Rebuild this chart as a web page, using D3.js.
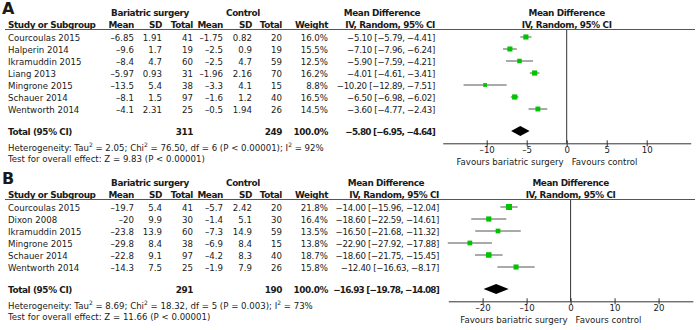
<!DOCTYPE html>
<html>
<head>
<meta charset="utf-8">
<script src="https://cdn.jsdelivr.net/npm/d3@7"></script>
<style>
  body { margin: 0; background: #fff; }
  svg { font-family: "DejaVu Sans", sans-serif; font-size: 8.6px; fill: #1a1a1a; }
  .b { font-weight: bold; font-size: 8.9px; letter-spacing: -0.4px; }
  .ci { letter-spacing: -0.3px; }
  .b.ci { letter-spacing: -0.8px; }
</style>
</head>
<body>
<div id="chart"></div>
<script>
// Panel A
const studiesA = ["Courcoulas 2015", "Halperin 2014", "Ikramuddin 2015", "Liang 2013", "Mingrone 2015", "Schauer 2014", "Wentworth 2014"];
const surgMeanA = ["-6.85", "-9.6", "-8.4", "-5.97", "-13.5", "-8.1", "-4.1"];
const surgSdA = ["1.91", "1.7", "4.7", "0.93", "5.4", "1.5", "2.31"];
const surgNA = [41, 19, 60, 31, 38, 97, 25];
const ctrlMeanA = ["-1.75", "-2.5", "-2.5", "-1.96", "-3.3", "-1.6", "-0.5"];
const ctrlSdA = ["0.82", "0.9", "4.7", "2.16", "4.1", "1.2", "1.94"];
const ctrlNA = [20, 19, 59, 70, 15, 40, 26];
const weightA = [16.0, 15.5, 12.5, 16.2, 8.8, 16.5, 14.5];
const mdA = [-5.10, -7.10, -5.90, -4.01, -10.20, -6.50, -3.60];
const loA = [-5.79, -7.96, -7.59, -4.61, -12.89, -6.98, -4.77];
const hiA = [-4.41, -6.24, -4.21, -3.41, -7.51, -6.02, -2.43];
const totalA = {n1: 311, n2: 249, md: -5.80, lo: -6.95, hi: -4.64};
const hetA = ["2.05", "76.50", "6", "P < 0.00001", "92%"];
const zA = ["9.83", "P < 0.00001"];
const ticksA = [-10, -5, 0, 5, 10];

// Panel B
const studiesB = ["Courcoulas 2015", "Dixon 2008", "Ikramuddin 2015", "Mingrone 2015", "Schauer 2014", "Wentworth 2014"];
const surgMeanB = ["-19.7", "-20", "-23.8", "-29.8", "-22.8", "-14.3"];
const surgSdB = ["5.4", "9.9", "13.9", "8.4", "9.1", "7.5"];
const surgNB = [41, 30, 60, 38, 97, 25];
const ctrlMeanB = ["-5.7", "-1.4", "-7.3", "-6.9", "-4.2", "-1.9"];
const ctrlSdB = ["2.42", "5.1", "14.9", "8.4", "8.3", "7.9"];
const ctrlNB = [20, 30, 59, 15, 40, 26];
const weightB = [21.8, 16.4, 13.5, 13.8, 18.7, 15.8];
const mdB = [-14.00, -18.60, -16.50, -22.90, -18.60, -12.40];
const loB = [-15.96, -22.59, -21.68, -27.92, -21.75, -16.63];
const hiB = [-12.04, -14.61, -11.32, -17.88, -15.45, -8.17];
const totalB = {n1: 291, n2: 190, md: -16.93, lo: -19.78, hi: -14.08};
const hetB = ["8.69", "18.32", "5", "P = 0.003", "73%"];
const zB = ["11.66", "P < 0.00001"];
const ticksB = [-20, -10, 0, 10, 20];

const W = 700, H = 330;
const svg = d3.select("#chart").append("svg").attr("width", W).attr("height", H);

const minus = s => String(s).replace(/-/g, "\u2013");
const f2 = d3.format(".2f");
const ci = (m, l, h) => minus(`${f2(m)} [${f2(l)}, ${f2(h)}]`);

// column right edges
const col = {m1: 134, sd1: 162, n1: 193, m2: 223, sd2: 252, n2: 282, w: 328};

function panel(p) {
  const g = svg.append("g").attr("transform", `translate(0,${p.y0})`);
  const rowY = i => 40.5 + 12 * i;
  const n = p.studies.length;
  const totY = rowY(n) + 6.5;   // centre of the total row
  const axisY = totY + 12.3;
  const x = d3.scaleLinear().domain(p.domain).range(p.range);

  g.append("text").attr("class", "b").attr("x", 2).attr("y", 14).style("font-size", "16px").style("letter-spacing", "0").text(p.label);

  // headers
  g.append("text").attr("class", "b").attr("x", 150).attr("y", 15.5).attr("text-anchor", "middle").text("Bariatric surgery");
  g.append("text").attr("class", "b").attr("x", 243).attr("y", 15.5).attr("text-anchor", "middle").text("Control");
  g.append("text").attr("class", "b").attr("x", p.ciX - 53).attr("y", 15.5).attr("text-anchor", "middle").text("Mean Difference");
  g.append("text").attr("class", "b").attr("x", p.ciX).attr("y", 27.5).attr("text-anchor", "end").text("IV, Random, 95% CI");
  g.append("text").attr("class", "b").attr("x", x(0)).attr("y", 15.5).attr("text-anchor", "middle").text("Mean Difference");
  g.append("text").attr("class", "b").attr("x", x(0)).attr("y", 27.5).attr("text-anchor", "middle").text("IV, Random, 95% CI");
  g.append("text").attr("class", "b").attr("x", 8).attr("y", 27.5).text("Study or Subgroup");
  const heads = [["Mean", col.m1], ["SD", col.sd1], ["Total", col.n1], ["Mean", col.m2], ["SD", col.sd2], ["Total", col.n2], ["Weight", col.w]];
  g.selectAll(".hd").data(heads).join("text").attr("class", "b")
    .attr("x", d => d[1]).attr("y", 27.5).attr("text-anchor", "end").text(d => d[0]);

  g.append("line").attr("x1", 5).attr("x2", 695).attr("y1", 29.5).attr("y2", 29.5)
    .attr("stroke", "#555").attr("stroke-width", 1);

  // rows
  const rows = p.studies.map((s, i) => ({
    s, i,
    cells: [[minus(p.m1[i]), col.m1], [p.sd1[i], col.sd1], [p.n1[i], col.n1],
            [minus(p.m2[i]), col.m2], [p.sd2[i], col.sd2], [p.n2[i], col.n2],
            [d3.format(".1f")(p.w[i]) + "%", col.w], [ci(p.md[i], p.lo[i], p.hi[i]), p.ciX, "ci"]]
  }));
  const r = g.selectAll(".row").data(rows).join("g").attr("transform", d => `translate(0,${rowY(d.i)})`);
  r.append("text").attr("x", 8).text(d => d.s);
  r.selectAll(".c").data(d => d.cells).join("text")
    .attr("class", d => d[2] || null)
    .attr("x", d => d[1]).attr("text-anchor", "end").text(d => d[0]);

  // total row
  const tot = g.append("g").attr("transform", `translate(0,${totY + 3.5})`);
  const bt = (xx, s, anchor, cls = "b") => tot.append("text").attr("class", cls).attr("x", xx).attr("text-anchor", anchor).text(s);
  bt(8, "Total (95% CI)", "start");
  bt(col.n1, p.total.n1, "end");
  bt(col.n2, p.total.n2, "end");
  bt(col.w, "100.0%", "end");
  bt(p.ciX, ci(p.total.md, p.total.lo, p.total.hi), "end", "b ci");

  const sup = (t, v) => { t.append("tspan").attr("dy", -3.2).style("font-size", "6px").text("2"); t.append("tspan").attr("dy", 3.2).text(v); };
  const het = g.append("text").attr("x", 8).attr("y", totY + 19.5);
  het.append("tspan").text("Heterogeneity: Tau");
  sup(het, ` = ${p.het[0]}; Chi`);
  sup(het, ` = ${p.het[1]}, df = ${p.het[2]} (${p.het[3]}); I`);
  sup(het, ` = ${p.het[4]}`);
  g.append("text").attr("x", 8).attr("y", totY + 31).text(`Test for overall effect: Z = ${p.z[0]} (${p.z[1]})`);

  // forest plot
  g.append("line").attr("x1", x(0)).attr("x2", x(0)).attr("y1", 30).attr("y2", axisY)
    .attr("stroke", "#333");
  const size = d3.scaleSqrt().domain([0, 22]).range([0, 6]);
  const f = g.selectAll(".f").data(rows).join("g").attr("transform", d => `translate(0,${rowY(d.i) - 3.5})`);
  f.append("line").attr("x1", d => x(p.lo[d.i])).attr("x2", d => x(p.hi[d.i]))
    .attr("stroke", "#555").attr("stroke-width", 1);
  f.append("rect")
    .attr("x", d => x(p.md[d.i]) - size(p.w[d.i]) / 2).attr("y", d => -size(p.w[d.i]) / 2)
    .attr("width", d => size(p.w[d.i])).attr("height", d => size(p.w[d.i]))
    .attr("fill", "#00c400");
  const t = p.total;
  g.append("path")
    .attr("d", `M${x(t.lo)},${totY} L${x(t.md)},${totY - 5} L${x(t.hi)},${totY} L${x(t.md)},${totY + 5} Z`)
    .attr("fill", "#000");

  const ax = g.append("g").attr("transform", `translate(0,${axisY})`)
    .call(d3.axisBottom(x).tickValues(p.ticks).tickSize(3).tickSizeOuter(0).tickFormat(d => minus(d)));
  ax.select(".domain").attr("stroke", "#333");
  ax.selectAll(".tick line").attr("y1", -3).attr("stroke", "#333");
  ax.selectAll(".tick text").attr("y", 10.2).attr("dy", 0)
    .style("font-family", "DejaVu Sans, sans-serif").style("font-size", "8.6px").attr("fill", "#1a1a1a");
  g.append("text").attr("x", x(0) - 3).attr("y", axisY + 21.7).attr("text-anchor", "end").text("Favours bariatric surgery");
  g.append("text").attr("x", x(0) + 5).attr("y", axisY + 21.7).text("Favours control");
}

panel({label: "A", y0: 0, studies: studiesA, m1: surgMeanA, sd1: surgSdA, n1: surgNA, m2: ctrlMeanA, sd2: ctrlSdA, n2: ctrlNA,
  w: weightA, md: mdA, lo: loA, hi: hiA, total: totalA, het: hetA, z: zA, ticks: ticksA,
  domain: [-15.5, 15.5], range: [442.7, 690.7], ciX: 435});
panel({label: "B", y0: 170, studies: studiesB, m1: surgMeanB, sd1: surgSdB, n1: surgNB, m2: ctrlMeanB, sd2: ctrlSdB, n2: ctrlNB,
  w: weightB, md: mdB, lo: loB, hi: hiB, total: totalB, het: hetB, z: zB, ticks: ticksB,
  domain: [-27.8, 27.8], range: [448.3, 692.9], ciX: 439});
</script>
</body>
</html>
